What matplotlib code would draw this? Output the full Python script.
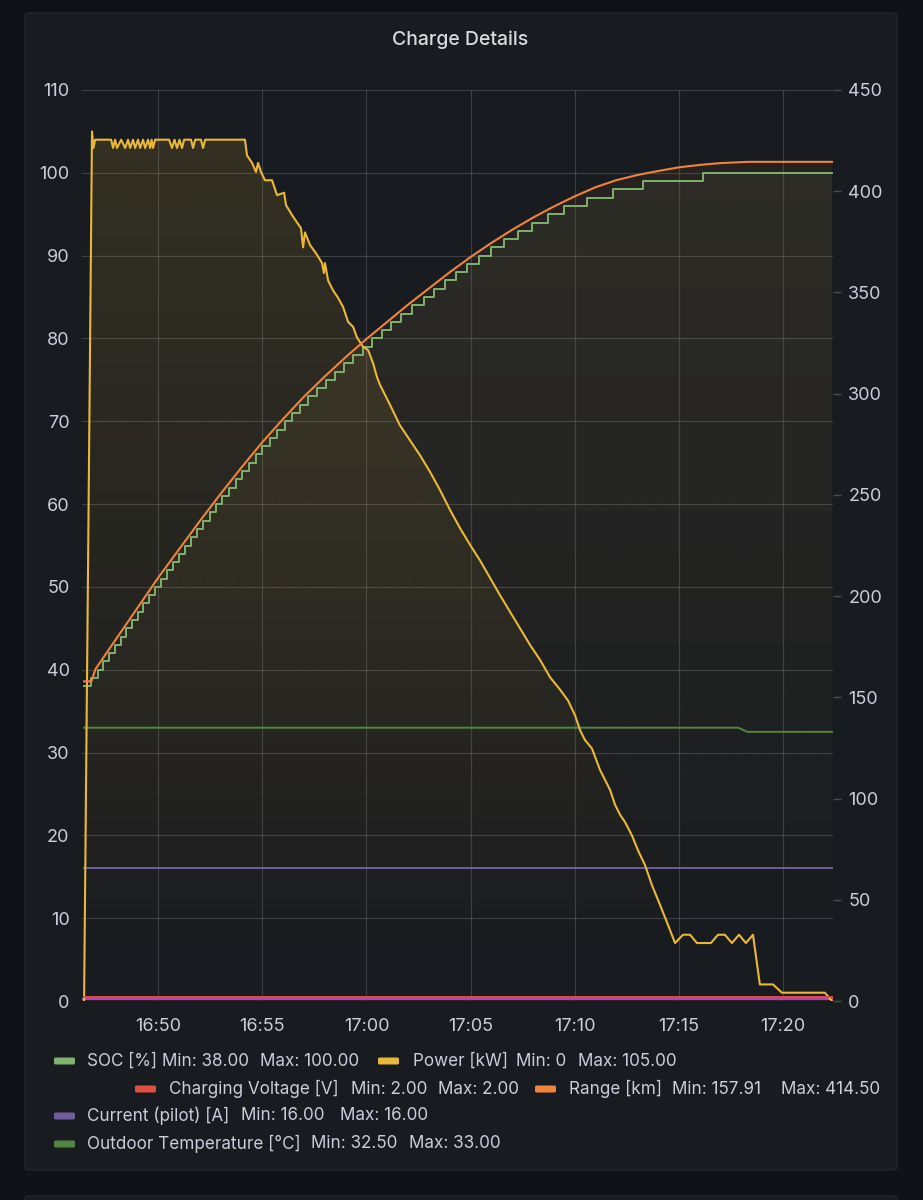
import numpy as np
import matplotlib
matplotlib.use("Agg")
import matplotlib.pyplot as plt
from matplotlib.patches import FancyBboxPatch, PathPatch
from matplotlib.path import Path
from matplotlib.colors import to_rgba
from matplotlib.ticker import MultipleLocator, FuncFormatter

plt.rcParams['font.family'] = ['Inter', 'DejaVu Sans']

# tiempos en minutos desde las 16:00
power_t = [46.45, 46.83, 46.90, 46.98, 47.75, 47.84, 47.94, 48.03, 48.23, 48.42, 48.56,
           48.66, 48.80, 48.90, 49.04, 49.14, 49.28, 49.38, 49.52, 49.62, 49.69, 49.76,
           49.86, 50.53, 50.67, 50.79, 50.91, 51.03, 51.15, 51.25, 51.58, 51.68, 51.78,
           52.06, 52.16, 52.26, 54.17, 54.27, 54.51, 54.70, 54.80, 54.94, 55.13, 55.47,
           55.71, 56.05, 56.14, 56.43, 56.67, 56.86, 56.96, 57.05, 57.29, 57.63, 57.87,
           57.96, 58.01, 58.16, 58.40, 58.64, 58.88, 59.12, 59.36, 59.55, 59.84, 60.08,
           60.32, 60.51, 60.65, 61.13, 61.61, 62.09, 62.57, 63.05, 63.53, 64.01, 64.49,
           64.97, 65.45, 65.93, 66.41, 66.89, 67.37, 67.85, 68.33, 68.81, 69.29, 69.67,
           70.01, 70.25, 70.49, 70.82, 71.21, 71.45, 71.69, 71.93, 72.17, 72.41, 72.74,
           73.03, 73.37, 73.70, 74.09, 74.47, 74.81, 75.19, 75.53, 75.86, 76.53, 76.87,
           77.20, 77.54, 77.88, 78.21, 78.55, 78.88, 79.51, 79.94, 82.00, 82.34]
power_kw = [0, 105, 103, 104, 104, 103, 104, 103, 104, 103, 104,
            103, 104, 103, 104, 103, 104, 103, 104, 103, 104, 103,
            104, 104, 103, 104, 103, 104, 103, 104, 104, 103, 104,
            104, 103, 104, 104, 102.1, 101.2, 100.1, 101.2, 100.1, 99.1, 99.1,
            97.3, 97.6, 96.1, 94.9, 94.0, 93.3, 91.0, 92.8, 91.3, 90.1, 89.1,
            87.9, 89.1, 87.0, 85.8, 84.9, 83.8, 82.0, 81.4, 80.1, 79.0, 78.6,
            77.0, 75.3, 74.4, 72.0, 69.5, 67.7, 65.9, 63.9, 61.7, 59.3, 57.1,
            55.1, 53.2, 51.1, 49.0, 47.0, 45.0, 43.0, 41.2, 39.1, 37.6, 36.3,
            34.5, 32.7, 31.5, 30.5, 27.9, 26.7, 25.5, 23.7, 22.5, 21.6, 20.0,
            18.2, 16.4, 14.0, 11.6, 9.2, 7.0, 8, 8, 7, 7, 8,
            8, 7, 8, 7, 8, 2, 2, 1, 1, 0]

# SOC: instante de cada cambio de valor
soc_t = [46.45, 46.78, 47.11, 47.38, 47.66, 47.93, 48.21, 48.48, 48.75, 49.03, 49.30,
         49.57, 49.84, 50.12, 50.41, 50.71, 51.00, 51.29, 51.59, 51.88, 52.18, 52.48,
         52.79, 53.09, 53.41, 53.72, 54.03, 54.35, 54.68, 55.00, 55.36, 55.71, 56.07,
         56.44, 56.81, 57.21, 57.63, 58.04, 58.48, 58.91, 59.36, 59.82, 60.29, 60.76,
         61.19, 61.68, 62.21, 62.74, 63.25, 63.75, 64.28, 64.83, 65.41, 66.00, 66.62,
         67.27, 67.93, 68.69, 69.46, 70.60, 71.83, 73.27, 76.15, 82.34]
soc_pct = [38, 39, 40, 41, 42, 43, 44, 45, 46, 47, 48,
           49, 50, 51, 52, 53, 54, 55, 56, 57, 58, 59,
           60, 61, 62, 63, 64, 65, 66, 67, 68, 69, 70,
           71, 72, 73, 74, 75, 76, 77, 78, 79, 80, 81,
           82, 83, 84, 85, 86, 87, 88, 89, 90, 91, 92,
           93, 94, 95, 96, 97, 98, 99, 100, 100]

range_t = [46.45, 46.80, 47.0, 48.0, 49.0, 50.0, 51.0, 52.0, 53.0, 54.0, 55.0, 56.0,
           57.0, 58.0, 59.0, 60.0, 61.0, 62.0, 63.0, 64.0, 65.0, 66.0, 67.0, 68.0,
           69.0, 70.0, 71.0, 72.0, 73.0, 74.0, 75.0, 76.0, 77.0, 78.27, 82.34]
range_km = [157.91, 157.91, 164.0, 179.0, 194.0, 209.0, 223.0, 237.0, 250.5, 263.5,
            276.0, 287.5, 298.5, 308.5, 318.0, 327.0, 335.5, 344.0, 352.0, 360.0,
            367.5, 374.5, 381.0, 387.0, 392.5, 397.5, 402.0, 405.5, 408.0, 410.0,
            411.8, 413.0, 413.9, 414.5, 414.5]

temp_t = [46.45, 77.84, 78.27, 82.34]
temp_c = [33.0, 33.0, 32.5, 32.5]

pilot_t = [46.45, 82.34]
pilot_a = [16.0, 16.0]

volt_t = [46.45, 82.34]
volt_v = [2.0, 2.0]

legend_rows = [
    [("#7EB26D", "SOC [%]", "Min: 38.00", "Max: 100.00"),
     ("#EAB839", "Power [kW]", "Min: 0", "Max: 105.00")],
    [("#E24D42", "Charging Voltage [V]", "Min: 2.00", "Max: 2.00"),
     ("#EF843C", "Range [km]", "Min: 157.91", "Max: 414.50")],
    [("#705DA0", "Current (pilot) [A]", "Min: 16.00", "Max: 16.00")],
    [("#508642", "Outdoor Temperature [°C]", "Min: 32.50", "Max: 33.00")],
]
# posiciones en pixeles de cada trozo de la leyenda
legend_pos = [
    [(54, 87, 162, 260), (378, 413, 516, 578)],
    [(135, 169, 351, 438), (535, 569, 672, 781)],
    [(54, 87, 241, 340)],
    [(54, 87, 311, 409)],
]
legend_y = [1061, 1089, 1116, 1144]

BG = "#111217"
PANEL = "#181b1f"
TXT = "#ccccdc"
W, H = 923, 1200


def grad_fill(ax, trans, xs, ys, color, alpha):
    verts = [(xs[0], 0)] + list(zip(xs, ys)) + [(xs[-1], 0)]
    clip = PathPatch(Path(verts), transform=trans, fc='none', ec='none')
    img = np.zeros((256, 1, 4))
    img[..., :3] = to_rgba(color)[:3]
    img[..., 3] = np.linspace(0, alpha, 256)[:, None]
    x0, x1 = ax.get_xlim()
    y0, y1 = ax.get_ylim()
    im = ax.imshow(img, extent=[x0, x1, y0, y1], origin='lower', aspect='auto',
                   interpolation='bilinear', zorder=1)
    im.set_clip_path(clip)


fig = plt.figure(figsize=(W / 100, H / 100), dpi=100, facecolor=BG)

# paneles
fig.add_artist(FancyBboxPatch((0.25, 0.30), 8.72, 11.57,
                              boxstyle="round,pad=0,rounding_size=0.04",
                              transform=fig.dpi_scale_trans, fc=PANEL, ec="#23262b",
                              lw=1, zorder=-5))
fig.add_artist(FancyBboxPatch((0.25, -0.2), 8.72, 0.24,
                              boxstyle="round,pad=0,rounding_size=0.04",
                              transform=fig.dpi_scale_trans, fc=PANEL, ec="#23262b",
                              lw=1, zorder=-5))

ax = fig.add_axes([82 / W, 1 - 1001 / H, (833 - 82) / W, (1001 - 90) / H])
ax.patch.set_visible(False)
ax2 = ax.twinx()
ax2.patch.set_visible(False)

ax.set_xlim(46.35, 82.39)
ax.set_ylim(0, 110)
ax2.set_ylim(0, 450)

# escalones del SOC para el relleno
soc_xs = np.repeat(soc_t, 2)[1:]
soc_ys = np.repeat(soc_pct, 2)[:-1]

grad_fill(ax, ax.transData, power_t, power_kw, "#EAB839", 0.14)
grad_fill(ax, ax.transData, soc_xs, soc_ys, "#7EB26D", 0.08)
grad_fill(ax, ax2.transData, range_t, range_km, "#EF843C", 0.08)
grad_fill(ax, ax.transData, temp_t, temp_c, "#508642", 0.04)
ax.set_xlim(46.35, 82.39)
ax.set_ylim(0, 110)

ax.plot(temp_t, temp_c, color="#508642", lw=1.4, zorder=3)
ax.plot(pilot_t, pilot_a, color="#705DA0", lw=1.4, zorder=3)
ax.axhline(0.25, color="#BA43A9", lw=1.6, zorder=3)
ax.plot(soc_t, soc_pct, color="#7EB26D", lw=1.4, drawstyle="steps-post", zorder=4)
ax.plot(power_t, power_kw, color="#EAB839", lw=1.5, zorder=5)
ax2.plot(volt_t, volt_v, color="#E24D42", lw=1.4)
ax2.plot(range_t, range_km, color="#EF843C", lw=1.5)

ax.yaxis.set_major_locator(MultipleLocator(10))
ax.xaxis.set_major_locator(MultipleLocator(5))
ax.xaxis.set_major_formatter(FuncFormatter(lambda m, p: "%d:%02d" % (16 + int(m // 60), int(m % 60))))
ax2.yaxis.set_major_locator(MultipleLocator(50))
ax.grid(True, color=TXT, alpha=0.2, lw=0.8)
ax.set_axisbelow(True)

for a in (ax, ax2):
    for s in a.spines.values():
        s.set_visible(False)
ax.tick_params(axis='y', length=0, pad=9, labelsize=13, labelcolor=TXT)
ax.tick_params(axis='x', length=0, pad=12, labelsize=13, labelcolor=TXT)
ax2.tick_params(axis='y', length=6, width=1, color="#4a4c52", pad=5, labelsize=13, labelcolor=TXT)

fig.text(460 / W, 1 - 40 / H, "Charge Details", ha="center", va="center",
         fontsize=14, fontweight="medium", color="#d8d9da")

# leyenda
for row, pos, yy in zip(legend_rows, legend_pos, legend_y):
    for (col, name, mn, mx), (xs, xn, xmn, xmx) in zip(row, pos):
        fig.add_artist(FancyBboxPatch((xs / 100, (H - yy - 3.5) / 100), 0.21, 0.07,
                                      boxstyle="round,pad=0,rounding_size=0.015",
                                      transform=fig.dpi_scale_trans, fc=col, ec="none"))
        for txt, xx in ((name, xn), (mn, xmn), (mx, xmx)):
            fig.text(xx / W, 1 - yy / H, txt, ha="left", va="center",
                     fontsize=12.3, color=TXT)

fig.savefig("out.png", dpi=100, facecolor=BG)
